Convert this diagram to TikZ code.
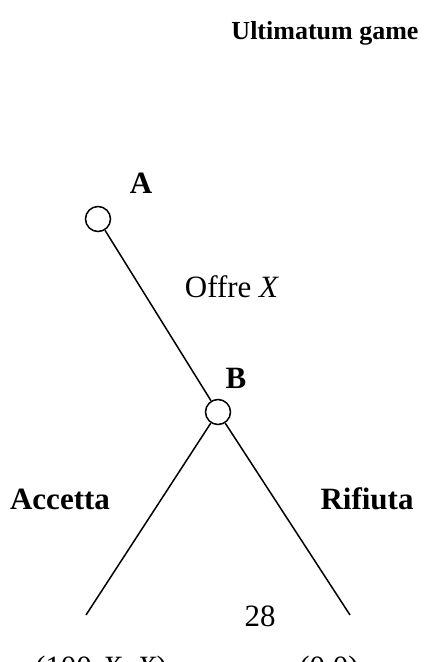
\documentclass[tikz,border=0pt]{standalone}
\usepackage{fontspec}
\setmainfont{Liberation Serif}
\begin{document}
\begin{tikzpicture}[x=1pt,y=-1pt,
  dec/.style={circle,draw,line width=1.5pt,minimum size=25pt,inner sep=0pt},
  edge/.style={line width=1.5pt},
  lbl/.style={font=\fontsize{31}{36}\selectfont,inner sep=0pt},
  blbl/.style={font=\fontsize{31}{36}\selectfont\bfseries,inner sep=0pt},
  tlbl/.style={font=\fontsize{26}{31}\selectfont\bfseries,inner sep=0pt}]
\clip (0,0) rectangle (425,662);
\useasboundingbox (0,0) rectangle (425,662);
\node[tlbl] (title) at (325,33) {Ultimatum game};
\node[dec] (A) at (98,219) {};
\node[dec] (B) at (218,412) {};
\node[blbl] (la) at (141,183) {A};
\node[blbl] (lb) at (236,378) {B};
\node[lbl] (offre) at (232,287) {Offre \textit{X}};
\node[blbl] (acc) at (60,499) {Accetta};
\node[blbl] (rif) at (367,499) {Rifiuta};
\node[lbl] (n28) at (260,616) {28};
\coordinate (L) at (86,615);
\coordinate (R) at (350,615);
\node[lbl,anchor=base] (pa) at (101,677) {(100-\textit{X}, \textit{X})};
\node[lbl,anchor=base] (pb) at (329,677) {(0,0)};
\draw[edge] (A) -- (B);
\draw[edge] (B) -- (L);
\draw[edge] (B) -- (R);
\end{tikzpicture}
\end{document}
